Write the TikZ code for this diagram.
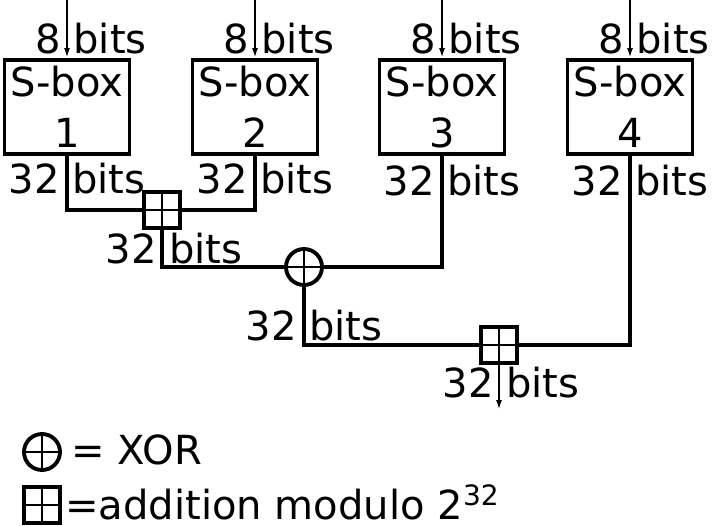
\documentclass[tikz,border=0pt]{standalone}
\usepackage{fontspec}
\setmainfont{DejaVu Sans}
\usetikzlibrary{arrows.meta}
\tikzset{
    sbox/.style={draw,line width=2.2pt,minimum width=2.5cm,minimum height=1.88cm,align=center,inner sep=0pt},
    addbox/.style={draw,line width=2.2pt,minimum size=0.72cm,inner sep=0pt,
        path picture={\draw[line width=1.2pt] (path picture bounding box.north) -- (path picture bounding box.south)
            (path picture bounding box.west) -- (path picture bounding box.east);}},
    xorbox/.style={draw,circle,line width=2.2pt,minimum size=0.72cm,inner sep=0pt,
        path picture={\draw[line width=1.2pt] (path picture bounding box.north) -- (path picture bounding box.south)
            (path picture bounding box.west) -- (path picture bounding box.east);}},
    wire/.style={line width=1.9pt},
    feed/.style={line width=1.4pt,-{Latex[length=0.2cm,width=0.12cm]}},
    bits/.style={anchor=base,inner sep=0pt},
}
\begin{document}
\begin{tikzpicture}[x=0.02cm,y=-0.02cm,font=\fontsize{22.8}{29}\selectfont]
    \useasboundingbox (0,0) rectangle (716,526);
    % the four S-boxes
    \node[sbox] (sbox1) at (67,107) {S-box\\1};
    \node[sbox] (sbox2) at (255,107) {S-box\\2};
    \node[sbox] (sbox3) at (442,107) {S-box\\3};
    \node[sbox] (sbox4) at (630,107) {S-box\\4};
    \coordinate (in1) at (67,0);
    \coordinate (in2) at (255,0);
    \coordinate (in3) at (442,0);
    \coordinate (in4) at (630,0);
    \draw[feed] (in1) -- (sbox1.north);
    \draw[feed] (in2) -- (sbox2.north);
    \draw[feed] (in3) -- (sbox3.north);
    \draw[feed] (in4) -- (sbox4.north);
    \node[bits] (lin1) at (91,54) {8 bits};
    \node[bits] (lin2) at (279,54) {8 bits};
    \node[bits] (lin3) at (466,54) {8 bits};
    \node[bits] (lin4) at (654,54) {8 bits};
    % combining stages
    \node[addbox] (add1) at (162,210) {};
    \node[xorbox] (xor1) at (304,267) {};
    \node[addbox] (add2) at (499,345) {};
    \coordinate (out) at (499,410);
    \draw[wire] (sbox1.south) |- (add1.west);
    \draw[wire] (sbox2.south) |- (add1.east);
    \draw[wire] (add1.south) |- (xor1.west);
    \draw[wire] (sbox3.south) |- (xor1.east);
    \draw[wire] (xor1.south) |- (add2.west);
    \draw[wire] (sbox4.south) |- (add2.east);
    \draw[feed] (add2.south) -- (out);
    \node[bits] (lout1) at (77,194) {32 bits};
    \node[bits] (lout2) at (265,194) {32 bits};
    \node[bits] (lout3) at (452,196) {32 bits};
    \node[bits] (lout4) at (640,196) {32 bits};
    \node[bits] (ladd1) at (174,264) {32 bits};
    \node[bits] (lxor1) at (314,341) {32 bits};
    \node[bits] (ladd2) at (511,398) {32 bits};
    % legend
    \node[xorbox] (keyxor) at (42,452) {};
    \node[addbox] (keyadd) at (42,505) {};
    \node[anchor=base west,inner sep=0pt] (keyxortext) at (71,464) {= XOR};
    \node[anchor=base west,inner sep=0pt] (keyaddtext) at (65,519) {=addition modulo 2\textsuperscript{32}};
\end{tikzpicture}
\end{document}
